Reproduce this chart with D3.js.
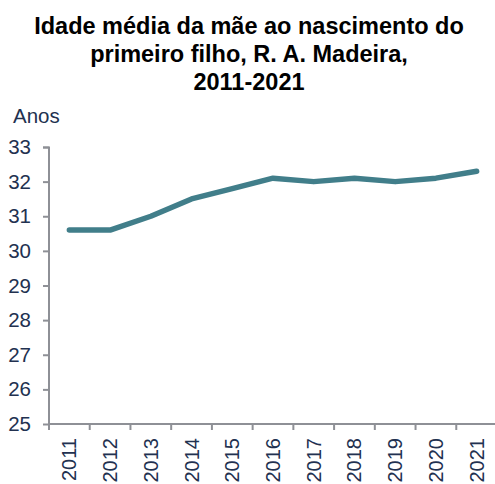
<!DOCTYPE html>
<html>
<head>
<meta charset="utf-8">
<script src="https://cdn.jsdelivr.net/npm/d3@7"></script>
<style>
  body { margin: 0; background: #fff; }
  svg text { font-family: "Liberation Sans", Arial, sans-serif; }
</style>
</head>
<body>
<div id="graphic"></div>
<script>
// data
const years = ["2011", "2012", "2013", "2014", "2015", "2016", "2017", "2018", "2019", "2020", "2021"];
const ages = [30.6, 30.6, 31.0, 31.5, 31.8, 32.1, 32.0, 32.1, 32.0, 32.1, 32.3];
const yTicks = [25, 26, 27, 28, 29, 30, 31, 32, 33];
const titleLines = ["Idade média da mãe ao nascimento do", "primeiro filho, R. A. Madeira,", "2011-2021"];

const W = 495, H = 484;
const margin = { top: 147, bottom: 60, left: 49, right: -2 };
const width = W - margin.left - margin.right,
  height = H - margin.top - margin.bottom;

const textColor = "#223150", axisColor = "#8e9096", lineColor = "#417e8a";

const svg = d3.select("#graphic").append("svg")
  .attr("width", W)
  .attr("height", H);

// title
svg.append("text")
  .attr("x", 249)
  .attr("y", 34)
  .attr("text-anchor", "middle")
  .attr("font-weight", "bold")
  .attr("font-size", "23.5px")
  .attr("fill", "#000")
  .selectAll("tspan")
  .data(titleLines)
  .enter()
  .append("tspan")
  .attr("x", 249)
  .attr("dy", (d, i) => i === 0 ? 0 : 28)
  .text(d => d);

// unit label
svg.append("text")
  .attr("x", 13)
  .attr("y", 123)
  .attr("font-size", "20.5px")
  .attr("fill", textColor)
  .text("Anos");

const g = svg.append("g")
  .attr("transform", `translate(${margin.left},${margin.top})`);

const x = d3.scaleBand()
  .domain(years)
  .range([0, width]);

const y = d3.scaleLinear()
  .domain([25, 33])
  .range([height, 0]);

// y axis
const gy = g.append("g")
  .call(d3.axisLeft(y).tickValues(yTicks).tickSize(6).tickPadding(12).tickFormat(d3.format("d")));
gy.select(".domain").attr("stroke", axisColor).attr("stroke-width", 2).attr("d", `M-6,0.5H0V${height}`);
gy.selectAll(".tick line").attr("stroke", axisColor).attr("stroke-width", 2);
gy.selectAll(".tick text").attr("font-size", "20.5px").attr("fill", textColor)
  .style("font-family", "Liberation Sans, Arial, sans-serif");

// x axis, ticks at band edges
const gx = g.append("g")
  .attr("transform", `translate(0,${height})`);
gx.append("line")
  .attr("x1", 0).attr("x2", width)
  .attr("stroke", axisColor).attr("stroke-width", 2);
gx.selectAll(".xtick")
  .data(years)
  .enter()
  .append("line")
  .attr("class", "xtick")
  .attr("x1", d => x(d)).attr("x2", d => x(d))
  .attr("y1", 0).attr("y2", 6)
  .attr("stroke", axisColor).attr("stroke-width", 2);
gx.selectAll(".xlabel")
  .data(years)
  .enter()
  .append("text")
  .attr("class", "xlabel")
  .attr("transform", d => `translate(${x(d) + x.bandwidth() / 2 + 7},14) rotate(-90)`)
  .attr("text-anchor", "end")
  .attr("font-size", "20px")
  .attr("fill", textColor)
  .text(d => d);

// line
const line = d3.line()
  .x((d, i) => x(years[i]) + x.bandwidth() / 2)
  .y(d => y(d));

g.append("path")
  .datum(ages)
  .attr("fill", "none")
  .attr("stroke", lineColor)
  .attr("stroke-width", 5.5)
  .attr("stroke-linecap", "round")
  .attr("stroke-linejoin", "round")
  .attr("d", line);
</script>
</body>
</html>
